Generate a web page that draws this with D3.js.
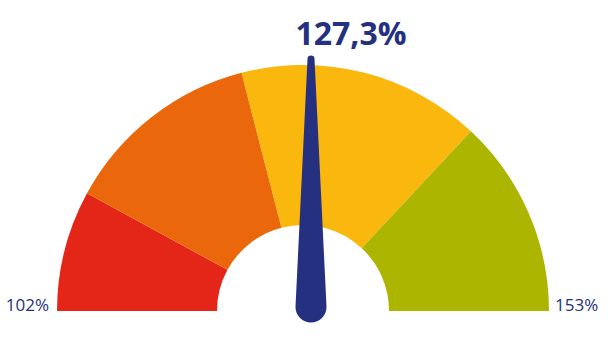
<!DOCTYPE html>
<html>
<head>
<meta charset="utf-8">
<script src="https://cdn.jsdelivr.net/npm/d3@7"></script>
<style>
  html, body { margin: 0; padding: 0; background: #ffffff; }
  svg { display: block; }
  text { font-family: "Open Sans", "DejaVu Sans", sans-serif; }
</style>
</head>
<body>
<div id="chart"></div>
<script>
// ---- data ----
const minValue = 102;
const maxValue = 153;
const thresholds = [102, 110.1, 123.4, 139.7, 153];
const bandColors = ["#e42618", "#eb670b", "#fab70d", "#acb500"];
const needleValue = 127.3;
const titleLabel = "127,3%";
const minLabel = "102%";
const maxLabel = "153%";

// ---- layout ----
const W = 608, H = 354;
const cx = 303, cy = 311;
const outerR = 246, innerR = 86;
const ink = "#253080";

const svg = d3.select("#chart").append("svg")
  .attr("width", W).attr("height", H);

// angle scale: radians, d3.arc convention (0 = up, clockwise)
const angle = d3.scaleLinear()
  .domain([minValue, maxValue])
  .range([-Math.PI / 2, Math.PI / 2]);

const arc = d3.arc()
  .innerRadius(innerR)
  .outerRadius(outerR);

const bands = d3.range(bandColors.length).map(i => ({
  start: thresholds[i], end: thresholds[i + 1], color: bandColors[i]
}));

const g = svg.append("g").attr("transform", `translate(${cx},${cy})`);

g.selectAll("path.band")
  .data(bands)
  .join("path")
  .attr("class", "band")
  .attr("d", d => arc({ startAngle: angle(d.start), endAngle: angle(d.end) }))
  .attr("fill", d => d.color);

// ---- needle ----
// the reference draws the needle upright, offset right of the gauge centre
const pivotX = 311, pivotY = 307;
const baseR = 15.5, tipR = 3.5, tipDist = 248;
function needlePath() {
  const p = d3.path();
  const dr = baseR - tipR;
  const a = Math.asin(dr / tipDist);
  const bx = baseR * Math.cos(a), by = baseR * Math.sin(a);
  const tx = tipR * Math.cos(a), ty = tipR * Math.sin(a);
  p.moveTo(-bx, -by);
  p.lineTo(-tx, -tipDist - ty);
  p.arc(0, -tipDist, tipR, Math.PI + a, -a, false);
  p.lineTo(bx, -by);
  p.arc(0, 0, baseR, -a, Math.PI + a, false);
  p.closePath();
  return p.toString();
}
// needle shown upright for the value near the gauge midpoint (rounded to whole degrees)
const needleDeg = Math.trunc(angle(needleValue) * 180 / Math.PI);
svg.append("path")
  .attr("d", needlePath())
  .attr("transform", `translate(${pivotX},${pivotY}) rotate(${needleDeg})`)
  .attr("fill", ink);

// ---- text ----
svg.append("text")
  .attr("x", 351).attr("y", 45)
  .attr("text-anchor", "middle")
  .attr("font-size", 32)
  .attr("font-weight", 700)
  .attr("fill", ink)
  .text(titleLabel);

svg.append("text")
  .attr("x", cx - outerR - 8).attr("y", cy)
  .attr("text-anchor", "end")
  .attr("font-size", 17)
  .attr("fill", ink)
  .text(minLabel);

svg.append("text")
  .attr("x", cx + outerR + 6).attr("y", cy)
  .attr("text-anchor", "start")
  .attr("font-size", 17)
  .attr("fill", ink)
  .text(maxLabel);
</script>
</body>
</html>
